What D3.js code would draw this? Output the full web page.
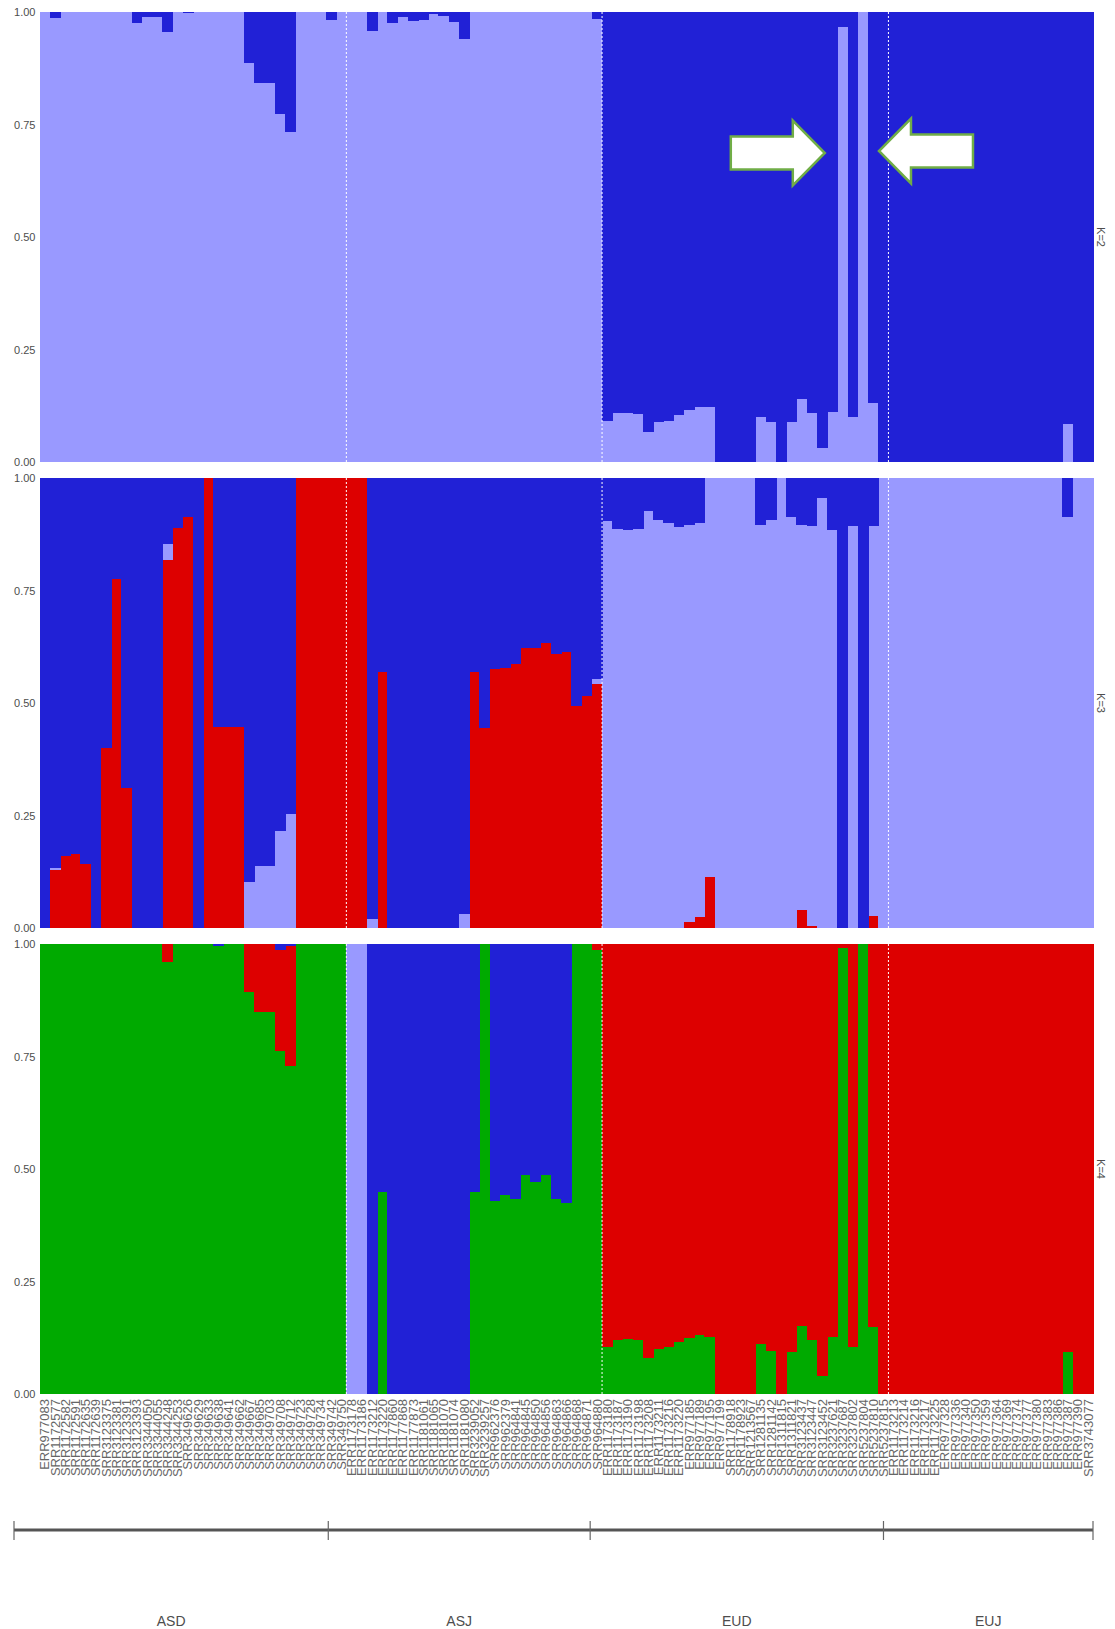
<!DOCTYPE html>
<meta charset="utf-8">
<style>
body {
  margin: 0;
  background: #fff;
  font-family: "Liberation Sans", Arial, sans-serif;
}
svg text {
  fill: #4d4d4d;
}
</style>
<body>
<script src="https://d3js.org/d3.v7.min.js"></script>
<script>
// sample names, in plot order
var samples = [
  // ASD
  "ERR977083","SRR1172577","SRR1172582","SRR1172591","SRR1172635","SRR1172639","SRR3123375","SRR3123381","SRR3123391","SRR3123393",
  "SRR3344050","SRR3344055","SRR3344248","SRR3344253","SRR349626","SRR349629","SRR349633","SRR349638","SRR349641","SRR349662",
  "SRR349667","SRR349685","SRR349703","SRR349708","SRR349712","SRR349723","SRR349728","SRR349734","SRR349742","SRR349750",
  // ASJ
  "ERR1173178","ERR1173186","ERR1173212","ERR1173220","ERR1177860","ERR1177868","ERR1177873","SRR1181061","SRR1181065","SRR1181070",
  "SRR1181074","SRR1181080","SRR3239052","SRR3239257","SRR962376","SRR962379","SRR964841","SRR964845","SRR964850","SRR964856",
  "SRR964863","SRR964866","SRR964868","SRR964871","SRR964880",
  // EUD
  "ERR1173180","ERR1173187","ERR1173190","ERR1173198","ERR1173208","ERR1173211","ERR1173216","ERR1173220","ERR977185","ERR977189",
  "ERR977195","ERR977199","SRR1178918","SRR1178923","SRR1213567","SRR1281135","SRR1281142","SRR1311815","SRR1311821","SRR3123437",
  "SRR3123447","SRR3123452","SRR3237621","SRR3237687","SRR3237802","SRR5237804","SRR5237810","SRR5237815",
  // EUJ
  "ERR1173213","ERR1173214","ERR1173216","ERR1173217","ERR1173225","ERR977328","ERR977336","ERR977340","ERR977350","ERR977359",
  "ERR977364","ERR977369","ERR977374","ERR977377","ERR977380","ERR977383","ERR977386","ERR977387","ERR977390","SRR3743077"
];

var groups = ["ASD", "ASJ", "EUD", "EUJ"];
var groupSizes = [30, 25, 28, 20];

var yTicks = [0, 0.25, 0.5, 0.75, 1];

// ancestry fractions per sample; the last cluster of each K fills the rest of the row
// K=2
var k2Light = [
  1,0.986,1,1,1,1,1,1,1,0.975, 0.988,0.988,0.956,1,0.997,1,1,1,1,1, 0.886,0.843,0.843,0.773,0.733,1,1,1,0.982,1,
  1,1,0.958,1,0.975,0.988,0.98,0.983,0.996,0.991, 0.978,0.939,1,1,1,1,1,1,1,1, 1,1,1,1,0.984,
  0.092,0.110,0.110,0.106,0.066,0.088,0.092,0.105,0.116,0.123, 0.122,0,0,0,0,0.099,0.088,0,0.088,0.140, 0.110,0.031,0.112,0.966,0.100,1,0.131,0,
  0,0,0,0,0,0,0,0,0,0, 0,0,0,0,0,0,0,0.085,0,0
];

// K=3
var k3Red = [
  0,0.13,0.159,0.164,0.142,0,0.401,0.776,0.311,0, 0,0,0.818,0.889,0.913,0,1,0.446,0.446,0.446, 0,0,0,0,0,1,1,1,1,1,
  1,1,0,0.570,0,0,0,0,0,0, 0,0,0.570,0.444,0.576,0.578,0.587,0.622,0.622,0.633, 0.609,0.613,0.493,0.516,0.542,
  0,0,0,0,0,0,0,0,0.013,0.024, 0.113,0,0,0,0,0,0,0,0,0.039, 0.005,0,0,0,0,0,0.027,0,
  0,0,0,0,0,0,0,0,0,0, 0,0,0,0,0,0,0,0,0,0
];
var k3Light = [
  0,0.003,0,0,0,0,0,0,0,0, 0,0,0.036,0,0,0,0,0,0,0, 0.102,0.137,0.137,0.215,0.253,0,0,0,0,0,
  0,0,0.021,0,0,0,0,0,0,0, 0,0.032,0,0,0,0,0,0,0,0, 0,0,0,0,0.011,
  0.904,0.887,0.884,0.887,0.926,0.906,0.901,0.891,0.883,0.875, 0.887,1,1,1,1,0.896,0.907,1,0.913,0.857, 0.889,0.956,0.884,0,0.893,0,0.866,1,
  1,1,1,1,1,1,1,1,1,1, 1,1,1,1,1,1,1,0.913,1,1
];

// K=4
var k4Green = [
  1,1,1,1,1,1,1,1,1,1, 1,1,0.959,1,1,1,1,0.995,1,1, 0.893,0.849,0.849,0.763,0.728,1,1,1,1,1,
  0,0,0,0.448,0,0,0,0,0,0, 0,0,0.448,1,0.430,0.443,0.433,0.486,0.471,0.486, 0.433,0.424,1,1,0.987,
  0.104,0.120,0.122,0.120,0.079,0.099,0.105,0.116,0.125,0.131, 0.126,0,0,0,0,0.111,0.096,0,0.094,0.152, 0.120,0.041,0.126,0.991,0.105,1,0.148,0,
  0,0,0,0,0,0,0,0,0,0, 0,0,0,0,0,0,0,0.094,0,0
];
var k4Red = [
  0,0,0,0,0,0,0,0,0,0, 0,0,0.041,0,0,0,0,0,0,0, 0.107,0.151,0.151,0.224,0.267,0,0,0,0,0,
  0,0,0,0,0,0,0,0,0,0, 0,0,0,0,0,0,0,0,0,0, 0,0,0,0,0.013,
  0.896,0.880,0.878,0.880,0.921,0.901,0.895,0.884,0.875,0.869, 0.874,1,1,1,1,0.889,0.904,1,0.906,0.848, 0.880,0.959,0.874,0.009,0.895,0,0.852,1,
  1,1,1,1,1,1,1,1,1,1, 1,1,1,1,1,1,1,0.906,1,1
];
var k4Light = [
  0,0,0,0,0,0,0,0,0,0, 0,0,0,0,0,0,0,0,0,0, 0,0,0,0,0,0,0,0,0,0,
  1,1,0,0,0,0,0,0,0,0, 0,0,0,0,0,0,0,0,0,0, 0,0,0,0,0,
  0,0,0,0,0,0,0,0,0,0, 0,0,0,0,0,0,0,0,0,0, 0,0,0,0,0,0,0,0,
  0,0,0,0,0,0,0,0,0,0, 0,0,0,0,0,0,0,0,0,0
];

var light = "#9999ff", blue = "#2121d6", red = "#dd0000", green = "#00aa00";

var width = 1115,
    height = 1629,
    panelH = 450;

var svg = d3.select("body")
  .append("svg")
  .attr("width", width)
  .attr("height", height);

var x = d3.scaleBand()
  .domain(d3.range(samples.length))
  .range([39.5, 1093])
  .padding(0);

var y = d3.scaleLinear()
  .domain([0, 1])
  .range([panelH, 0]);

var panels = [
  {label: "K=2", top: 12, comps: [k2Light], colors: [light, blue]},
  {label: "K=3", top: 478, comps: [k3Red, k3Light], colors: [red, light, blue]},
  {label: "K=4", top: 944, comps: [k4Green, k4Red, k4Light], colors: [green, red, light, blue]}
];

// group boundaries (sample index where each group starts)
var bounds = [];
groupSizes.reduce(function(acc, n) { bounds.push(acc); return acc + n; }, 0);
bounds.push(samples.length);

panels.forEach(function(p) {
  var g = svg.append("g").attr("transform", "translate(0," + p.top + ")");

  var keys = p.comps.map(function(c, j) { return "c" + j; }).concat(["rest"]);
  var rows = samples.map(function(s, i) {
    var r = {};
    p.comps.forEach(function(c, j) { r["c" + j] = c[i]; });
    r.rest = Math.max(0, 1 - d3.sum(p.comps, function(c) { return c[i]; }));
    return r;
  });
  var series = d3.stack().keys(keys)(rows);

  g.selectAll("g.layer")
    .data(series)
    .enter().append("g")
    .attr("class", "layer")
    .attr("fill", function(d, j) { return p.colors[j]; })
    .selectAll("rect")
    .data(function(d) { return d; })
    .enter().append("rect")
    .attr("shape-rendering", "crispEdges")
    .attr("x", function(d, i) { return x(i); })
    .attr("width", x.bandwidth() + 0.6)
    .attr("y", function(d) { return y(d[1]); })
    .attr("height", function(d) { return Math.max(0, y(d[0]) - y(d[1])); });

  // dotted separators between groups
  g.selectAll("line.sep")
    .data(bounds.slice(1, -1))
    .enter().append("line")
    .attr("class", "sep")
    .attr("x1", function(d) { return x(d); })
    .attr("x2", function(d) { return x(d); })
    .attr("y1", 0)
    .attr("y2", panelH)
    .attr("stroke", "#fff")
    .attr("stroke-width", 1)
    .attr("stroke-dasharray", "2,2");

  var ax = g.append("g")
    .attr("transform", "translate(39.5,0)")
    .call(d3.axisLeft(y).tickValues(yTicks).tickFormat(d3.format(".2f")).tickSize(0).tickPadding(4));
  ax.select(".domain").remove();
  ax.selectAll("text").attr("font-size", 11).attr("font-family", "Liberation Sans, Arial, sans-serif").style("fill", "#4d4d4d");

  g.append("text")
    .attr("transform", "translate(1101," + (panelH / 2) + ") rotate(90)")
    .attr("text-anchor", "middle")
    .attr("dy", "0.35em")
    .attr("font-size", 11)
    .text(p.label);

  p.g = g;
});

// arrows pointing at the two admixed EUD samples in K=2
function arrowPath(tip, cy, dir) {
  var pts = [[-94, -16.5], [-32, -16.5], [-32, -32.5], [0, 0], [-32, 32.5], [-32, 16.5], [-94, 16.5]];
  return "M" + pts.map(function(q) { return [tip + dir * q[0], cy + q[1]].join(","); }).join("L") + "Z";
}
var k2 = panels[0].g;
k2.append("path")
  .attr("d", arrowPath(x(78) - 12.5, 141, 1))
  .attr("fill", "#fff")
  .attr("stroke", "#70ad47")
  .attr("stroke-width", 2.5);
k2.append("path")
  .attr("d", arrowPath(x(80) + x.bandwidth() + 11, 139, -1))
  .attr("fill", "#fff")
  .attr("stroke", "#70ad47")
  .attr("stroke-width", 2.5);

// sample labels under the last panel
var sx = svg.append("g")
  .attr("transform", "translate(0,1397)")
  .call(d3.axisBottom(x).tickSize(0).tickFormat(function(i) { return samples[i]; }));
sx.select(".domain").remove();
sx.selectAll("text")
  .attr("transform", "rotate(-90)")
  .attr("text-anchor", "end")
  .attr("x", -2)
  .attr("y", 0)
  .attr("dy", "0.36em")
  .attr("font-size", 13)
  .attr("font-family", "Liberation Sans, Arial, sans-serif")
  .style("fill", "#666");

// population axis
var xg = d3.scaleLinear().domain([0, samples.length]).range([14, 1093]);
var pg = svg.append("g");
pg.append("line")
  .attr("x1", xg(0)).attr("x2", xg(samples.length))
  .attr("y1", 1530).attr("y2", 1530)
  .attr("stroke", "#555").attr("stroke-width", 3);
pg.selectAll("line.tick")
  .data(bounds)
  .enter().append("line")
  .attr("class", "tick")
  .attr("x1", function(d) { return xg(d); })
  .attr("x2", function(d) { return xg(d); })
  .attr("y1", 1521).attr("y2", 1540)
  .attr("stroke", "#666").attr("stroke-width", 1.2);
pg.selectAll("text")
  .data(groups)
  .enter().append("text")
  .attr("x", function(d, i) { return xg((bounds[i] + bounds[i + 1]) / 2); })
  .attr("y", 1626)
  .attr("text-anchor", "middle")
  .attr("font-size", 14)
  .text(function(d) { return d; });
</script>
</body>
